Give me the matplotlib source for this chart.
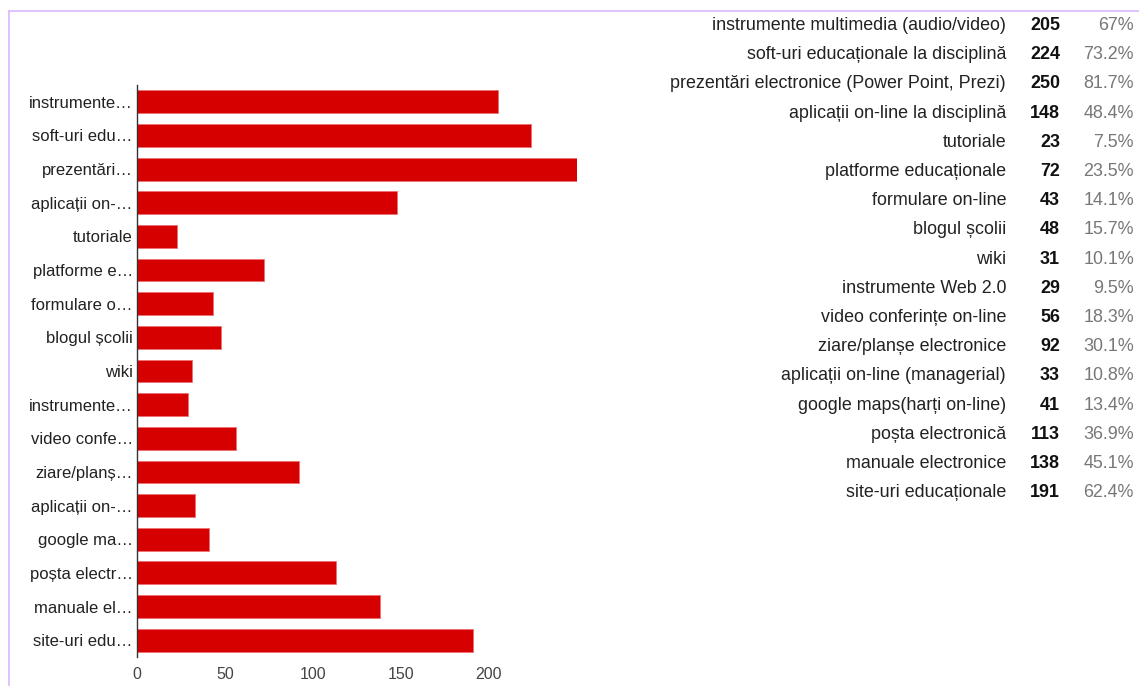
import matplotlib.pyplot as plt
from matplotlib.lines import Line2D

plt.rcParams['font.family'] = ['Liberation Sans', 'DejaVu Sans']

# full option names, counts and shares
options = ['instrumente multimedia (audio/video)', 'soft-uri educaționale la disciplină',
           'prezentări electronice (Power Point, Prezi)', 'aplicații on-line la disciplină',
           'tutoriale', 'platforme educaționale', 'formulare on-line', 'blogul școlii',
           'wiki', 'instrumente Web 2.0', 'video conferințe on-line', 'ziare/planșe electronice',
           'aplicații on-line (managerial)', 'google maps(harți on-line)', 'poșta electronică',
           'manuale electronice', 'site-uri educaționale']
counts = [205, 224, 250, 148, 23, 72, 43, 48, 31, 29, 56, 92, 33, 41, 113, 138, 191]
shares = ['67%', '73.2%', '81.7%', '48.4%', '7.5%', '23.5%', '14.1%', '15.7%', '10.1%',
          '9.5%', '18.3%', '30.1%', '10.8%', '13.4%', '36.9%', '45.1%', '62.4%']

# shortened names shown next to the bars
short_labels = ['instrumente…', 'soft-uri edu…', 'prezentări…', 'aplicații on-…', 'tutoriale',
                'platforme e…', 'formulare o…', 'blogul școlii', 'wiki', 'instrumente…',
                'video confe…', 'ziare/planș…', 'aplicații on-…', 'google ma…', 'poșta electr…',
                'manuale el…', 'site-uri edu…']
xticks = [0, 50, 100, 150, 200]

W, H = 1139, 686
fig = plt.figure(figsize=(W / 100, H / 100), dpi=100)

# bar chart area in pixels: left 137, top 85, width 440, height 572
ax = fig.add_axes([137 / W, 1 - 657 / H, 440 / W, 572 / H])
ypos = list(range(len(counts)))
ax.barh(ypos, counts, height=0.68, color='#d70000', edgecolor='#f07070', linewidth=0.6)
ax.set_xlim(0, 250)
ax.set_ylim(len(counts) - 0.5, -0.5)
ax.set_yticks(ypos)
ax.set_yticklabels(short_labels, fontsize=12, color='#222222')
ax.set_xticks(xticks)
ax.set_xticklabels([str(t) for t in xticks], fontsize=11.5, color='#444444')
ax.tick_params(length=0, axis='y', pad=3)
ax.tick_params(length=0, axis='x', pad=7)
for s in ['top', 'right', 'bottom']:
    ax.spines[s].set_visible(False)
ax.spines['left'].set_color('#333333')
ax.spines['left'].set_linewidth(1)

# summary table on the right
for i, (name, c, p) in enumerate(zip(options, counts, shares)):
    y = 1 - (25.5 + i * 29.2) / H
    fig.text(1006 / W, y, name, ha='right', va='center', fontsize=12.9, color='#222222')
    fig.text(1060 / W, y, str(c), ha='right', va='center', fontsize=12.9,
             fontweight='bold', color='#111111')
    fig.text(1134 / W, y, p, ha='right', va='center', fontsize=12.9, color='#777777')

# thin frame lines along top and left
fig.add_artist(Line2D([9 / W, 1], [1 - 11 / H, 1 - 11 / H], color='#d9b8fb', lw=1.2))
fig.add_artist(Line2D([9 / W, 9 / W], [0, 1 - 11 / H], color='#d9b8fb', lw=1.2))

fig.savefig('out.png', dpi=100)
